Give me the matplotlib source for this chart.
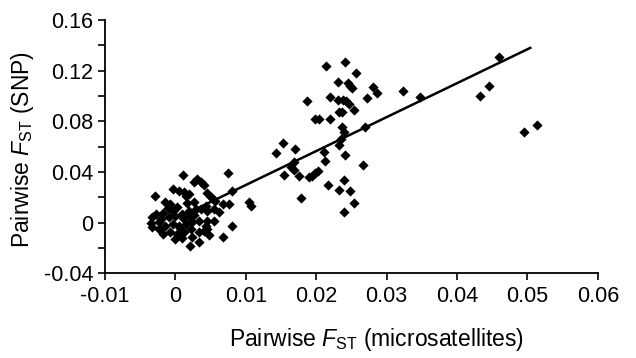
#!/usr/bin/env python3

import matplotlib
matplotlib.use("Agg")
import matplotlib.pyplot as plt
from matplotlib.ticker import MultipleLocator, FuncFormatter

# pairwise Fst, microsatellites (x) vs SNP (y)
fst_msat = [
    0.0011, 0.0075, 0.0027, 0.0031, 0.0040, 0.0037, -0.0004, 0.0005, 0.0012, 0.0019,
    -0.0029, 0.0045, 0.0053, 0.0081, -0.0014, -0.0007, 0.0015, 0.0027, -0.0027, -0.0033,
    -0.0021, -0.0009, 0.0000, 0.0010, 0.0019, 0.0029, -0.0033, -0.0023, -0.0014, -0.0004,
    0.0005, 0.0015, 0.0024, 0.0034, -0.0018, -0.0007, 0.0003, 0.0012, 0.0022, 0.0010,
    0.0024, 0.0000, 0.0034, 0.0050, 0.0057, 0.0067, 0.0076, 0.0105, 0.0107, 0.0036,
    0.0043, 0.0045, 0.0055, 0.0062, 0.0081, 0.0045, 0.0043, 0.0041, 0.0045, 0.0067,
    0.0034, 0.0021, -0.0035, -0.0011, 0.0003, 0.0011, 0.0020, -0.0018, -0.0023, 0.0027,
    0.0007, -0.0004, 0.0055, 0.0048, 0.0016,
    0.0214, 0.0241, 0.0257, 0.0231, 0.0245, 0.0248, 0.0251, 0.0281, 0.0287, 0.0324,
    0.0348, 0.0187, 0.0219, 0.0231, 0.0238, 0.0243, 0.0246, 0.0272, 0.0254, 0.0233,
    0.0237, 0.0198, 0.0204, 0.0220, 0.0237, 0.0240, 0.0269, 0.0235, 0.0233, 0.0153,
    0.0143, 0.0170, 0.0211, 0.0212, 0.0241, 0.0168, 0.0164, 0.0168, 0.0155, 0.0176,
    0.0190, 0.0194, 0.0198, 0.0202, 0.0267, 0.0217, 0.0240, 0.0233, 0.0248, 0.0179,
    0.0254, 0.0239,
    0.0460, 0.0446, 0.0432, 0.0495, 0.0513,
]
fst_snp = [
    0.0372, 0.0393, 0.0319, 0.0345, 0.0300, 0.0319, 0.0266, 0.0253, 0.0240, 0.0227,
    0.0206, 0.0232, 0.0187, 0.0247, 0.0160, 0.0148, 0.0208, 0.0160, 0.0069, 0.0042,
    0.0029, 0.0042, 0.0055, 0.0069, 0.0095, 0.0108, -0.0037, -0.0050, -0.0024, -0.0010,
    -0.0024, -0.0010, 0.0002, 0.0016, -0.0089, -0.0077, -0.0089, -0.0077, -0.0050, -0.0124,
    -0.0116, -0.0129, -0.0077, 0.0200, 0.0174, 0.0148, 0.0148, 0.0160, 0.0134, 0.0108,
    0.0134, 0.0095, 0.0108, 0.0081, -0.0024, 0.0016, -0.0024, -0.0063, -0.0050, -0.0116,
    -0.0156, -0.0182, 0.0000, 0.0111, 0.0126, 0.0032, 0.0040, 0.0079, 0.0008, 0.0063,
    -0.0047, 0.0095, 0.0016, -0.0095, 0.0158,
    0.1233, 0.1270, 0.1180, 0.1109, 0.1104, 0.1077, 0.1062, 0.1070, 0.1025, 0.1036,
    0.0994, 0.0964, 0.0994, 0.0972, 0.0972, 0.0959, 0.0938, 0.0983, 0.0893, 0.0872,
    0.0872, 0.0820, 0.0820, 0.0820, 0.0753, 0.0714, 0.0753, 0.0662, 0.0609, 0.0627,
    0.0551, 0.0583, 0.0561, 0.0490, 0.0530, 0.0477, 0.0437, 0.0419, 0.0372, 0.0364,
    0.0358, 0.0364, 0.0390, 0.0411, 0.0456, 0.0300, 0.0340, 0.0261, 0.0253, 0.0195,
    0.0156, 0.0087,
    0.1307, 0.1077, 0.0998, 0.0719, 0.0767,
]

# regression line end points
trend_x = [0.0010, 0.0504]
trend_y = [0.0055, 0.1380]

plt.rcParams['font.family'] = ['Liberation Sans', 'DejaVu Sans']
plt.rcParams['mathtext.fontset'] = 'custom'
plt.rcParams['mathtext.rm'] = 'Liberation Sans'
plt.rcParams['mathtext.it'] = 'Liberation Sans:italic'

fig = plt.figure(figsize=(6.36, 3.58), dpi=100)
ax = fig.add_axes([0.165, 0.237, 0.775, 0.707])

ax.scatter(fst_msat, fst_snp, marker='D', s=27, color='black', linewidths=0, zorder=3)
ax.plot(trend_x, trend_y, color='black', linewidth=1.8, zorder=2)

ax.set_xlim(-0.01, 0.06)
ax.set_ylim(-0.04, 0.16)

ax.xaxis.set_major_locator(MultipleLocator(0.01))
ax.yaxis.set_major_locator(MultipleLocator(0.04))
ax.yaxis.set_minor_locator(MultipleLocator(0.02))

fmt = FuncFormatter(lambda v, p: '0' if abs(v) < 1e-9 else ('%g' % round(v, 4)))
ax.xaxis.set_major_formatter(fmt)
ax.yaxis.set_major_formatter(fmt)

for s in ['top', 'right']:
    ax.spines[s].set_visible(False)
for s in ['left', 'bottom']:
    ax.spines[s].set_linewidth(1.3)

ax.tick_params(which='both', direction='out', width=1.2, labelsize=15.5, colors='black')
ax.tick_params(which='major', length=5)
ax.tick_params(which='minor', length=5)
ax.tick_params(axis='x', pad=4)

ax.set_xlabel(r'Pairwise $\mathit{F}_{\mathrm{ST}}$ (microsatellites)', fontsize=16.5)
ax.set_ylabel(r'Pairwise $\mathit{F}_{\mathrm{ST}}$ (SNP)', fontsize=16.5)
ax.xaxis.set_label_coords(0.55, -0.21)
ax.yaxis.set_label_coords(-0.14, 0.49)

fig.savefig('out.png', dpi=100)
